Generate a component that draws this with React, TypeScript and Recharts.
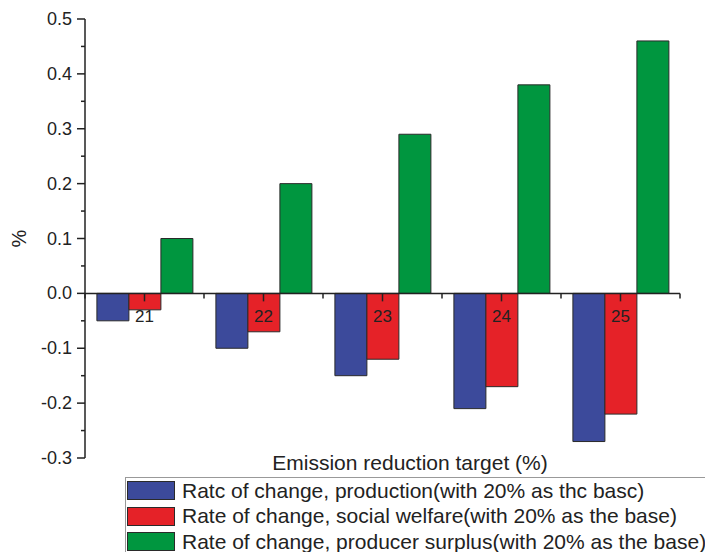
import { BarChart, Bar, XAxis, YAxis, ReferenceLine, Label } from "recharts";

const CATEGORIES = ["21", "22", "23", "24", "25"];
const PRODUCTION = [-0.05, -0.1, -0.15, -0.21, -0.27];
const WELFARE = [-0.03, -0.07, -0.12, -0.17, -0.22];
const SURPLUS = [0.1, 0.2, 0.29, 0.38, 0.46];

const MAJOR_TICKS = [-0.3, -0.2, -0.1, 0, 0.1, 0.2, 0.3, 0.4, 0.5];
const MINOR_TICKS = [-0.25, -0.15, -0.05, 0.05, 0.15, 0.25, 0.35, 0.45];

const SERIES = [
  { key: "production", name: "Ratc of change, production(with 20% as thc basc)", color: "#3c4a9b" },
  { key: "welfare", name: "Rate of change, social welfare(with 20% as the base)", color: "#e52228" },
  { key: "surplus", name: "Rate of change, producer surplus(with 20% as the base)", color: "#00963f" },
];

const data = CATEGORIES.map((cat, i) => ({
  cat,
  production: PRODUCTION[i],
  welfare: WELFARE[i],
  surplus: SURPLUS[i],
}));

const W = 705;
const H = 552;
const MARGIN = { top: 19, right: 25, bottom: 93, left: 0 };
const Y_AXIS_W = 85;
const Y_MIN = -0.3;
const Y_MAX = 0.5;
const PLOT_W = W - MARGIN.left - MARGIN.right - Y_AXIS_W;
const PLOT_H = H - MARGIN.top - MARGIN.bottom - 1;
const ZERO_Y = MARGIN.top + (PLOT_H * Y_MAX) / (Y_MAX - Y_MIN);
const BAND = PLOT_W / CATEGORIES.length;
const AXIS_X = MARGIN.left + Y_AXIS_W;

const FONT = "'Liberation Sans', Arial, sans-serif";
const INK = "#222";

function YTick(props: any) {
  const { y, payload } = props;
  const v = payload.value as number;
  const major = MAJOR_TICKS.some((t) => Math.abs(t - v) < 1e-6);
  return (
    <g>
      <line x1={AXIS_X - (major ? 8 : 4)} x2={AXIS_X} y1={y} y2={y} stroke={INK} strokeWidth={1.5} />
      {major && (
        <text x={AXIS_X - 13} y={y} dy={6} textAnchor="end" fontSize={18} fontFamily={FONT} fill={INK}>
          {v.toFixed(1)}
        </text>
      )}
    </g>
  );
}

function XTick(props: any) {
  const { x, payload, index } = props;
  const last = index === CATEGORIES.length - 1;
  return (
    <g>
      <line x1={x} x2={x} y1={ZERO_Y} y2={ZERO_Y + 8} stroke={INK} strokeWidth={1.5} />
      <line x1={x - BAND / 2} x2={x - BAND / 2} y1={ZERO_Y} y2={ZERO_Y + 5} stroke={INK} strokeWidth={1.5} />
      {last && (
        <line x1={x + BAND / 2} x2={x + BAND / 2} y1={ZERO_Y} y2={ZERO_Y + 5} stroke={INK} strokeWidth={1.5} />
      )}
      <text x={x} y={ZERO_Y + 29} textAnchor="middle" fontSize={17} fontFamily={FONT} fill={INK}>
        {payload.value}
      </text>
    </g>
  );
}

function PercentLabel() {
  const cy = MARGIN.top + PLOT_H / 2;
  return (
    <text
      transform={`translate(19, ${cy}) rotate(-90)`}
      textAnchor="middle"
      dominantBaseline="central"
      fontSize={20}
      fontFamily={FONT}
      fill={INK}
    >
      %
    </text>
  );
}

export default function App() {
  return (
    <div
      style={{
        position: "absolute",
        left: 0,
        top: 0,
        width: W,
        height: H,
        overflow: "hidden",
        background: "#fff",
        fontFamily: FONT,
      }}
    >
      <BarChart width={W} height={H} data={data} margin={MARGIN} barCategoryGap="10%" barGap={0}>
        <XAxis dataKey="cat" height={1} axisLine={false} tickLine={false} tick={<XTick />} interval={0} />
        <YAxis
          width={Y_AXIS_W}
          domain={[Y_MIN, Y_MAX]}
          ticks={[...MAJOR_TICKS, ...MINOR_TICKS].sort((a, b) => a - b)}
          interval={0}
          axisLine={{ stroke: INK, strokeWidth: 1.5 }}
          tickLine={false}
          tick={<YTick />}
        >
          <Label content={<PercentLabel />} />
        </YAxis>
        {SERIES.map((s) => (
          <Bar
            key={s.key}
            dataKey={s.key}
            name={s.name}
            fill={s.color}
            stroke="#2a2a2a"
            strokeWidth={1}
            isAnimationActive={false}
          />
        ))}
        <ReferenceLine y={0} stroke={INK} strokeWidth={1.5} />
      </BarChart>

      <div
        style={{
          position: "absolute",
          left: 410,
          top: 451,
          transform: "translateX(-50%)",
          fontSize: 21,
          color: INK,
          whiteSpace: "nowrap",
        }}
      >
        Emission reduction target (%)
      </div>

      <div
        style={{
          position: "absolute",
          left: 125,
          top: 477,
          width: 600,
          height: 90,
          border: "1px solid #999",
          boxSizing: "border-box",
          paddingLeft: 1,
        }}
      >
        {SERIES.map((s) => (
          <div
            key={s.key}
            style={{ display: "flex", alignItems: "center", height: 25.5, lineHeight: "22px" }}
          >
            <div
              style={{
                width: 46,
                height: 17,
                background: s.color,
                border: "1px solid #2a2a2a",
                marginRight: 7,
                flexShrink: 0,
              }}
            />
            <span style={{ fontSize: 21, color: INK, whiteSpace: "nowrap" }}>{s.name}</span>
          </div>
        ))}
      </div>
    </div>
  );
}
